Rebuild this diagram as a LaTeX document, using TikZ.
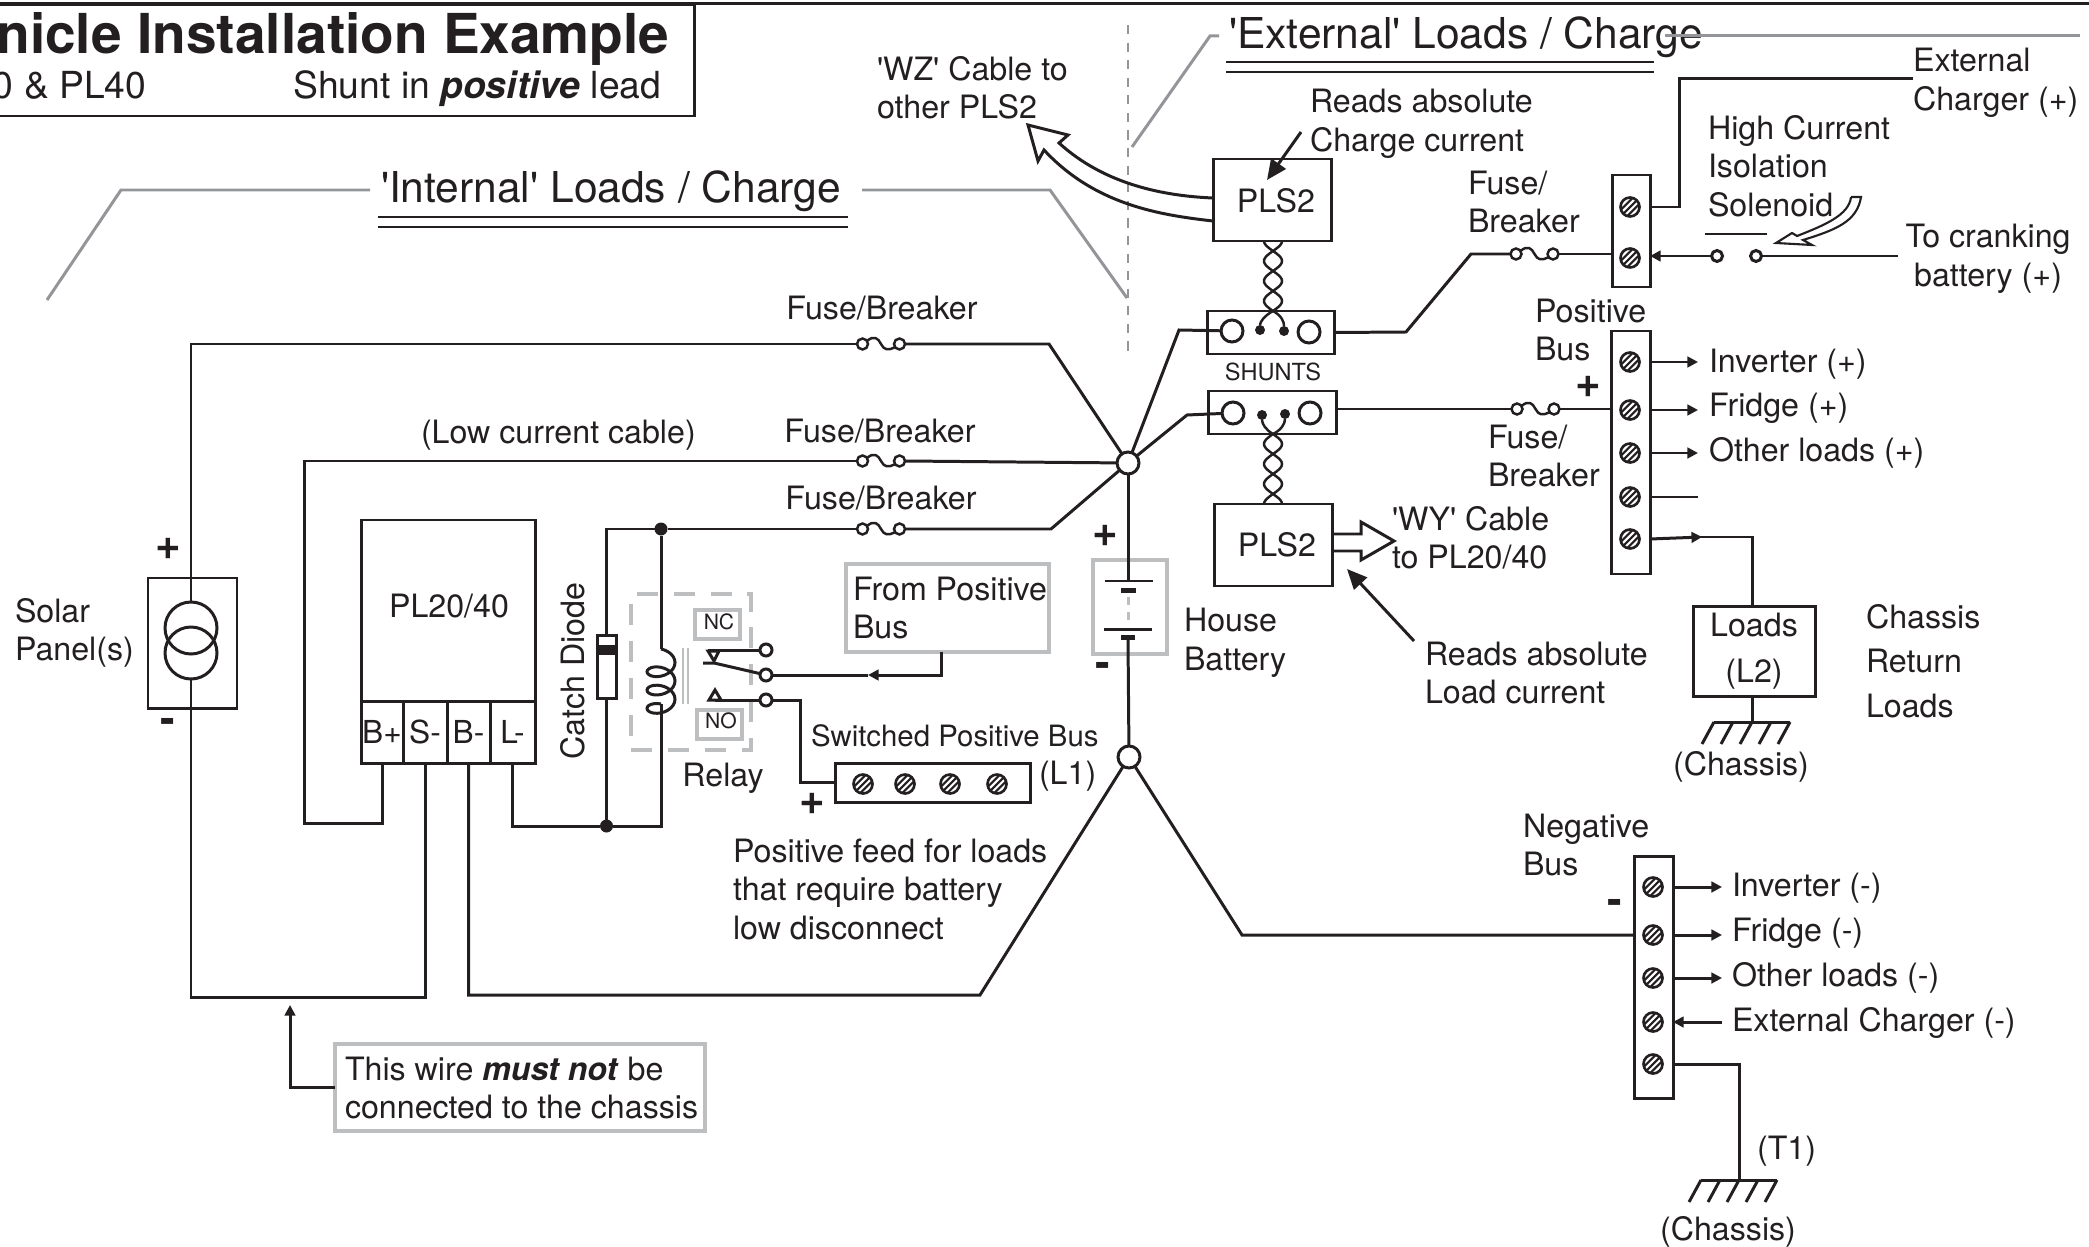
\documentclass[tikz,border=0pt]{standalone}
\usepackage{fontspec}
\setmainfont{TeX Gyre Heros}
\usetikzlibrary{arrows.meta}
\definecolor{ink}{HTML}{231F20}
\definecolor{paleline}{HTML}{BCBEC0}
\definecolor{leadline}{HTML}{939598}
\tikzset{
    wire/.style={line width=0.85pt,line join=miter},
    lead/.style={line width=0.85pt,draw=leadline},
    box/.style 2 args={draw,inner sep=0pt,outer sep=0pt,line width=0.85pt,minimum width=#1*0.01cm,minimum height=#2*0.01cm},
    palebox/.style 2 args={box={#1}{#2},draw=paleline,line width=1pt},
    hole/.style={draw,circle,fill=white,inner sep=0pt,outer sep=0pt,line width=0.85pt,minimum size=#1*0.01cm},
    dot/.style={fill,circle,inner sep=0pt,outer sep=0pt,minimum size=#1*0.01cm},
    lbl/.style={inner sep=0pt,outer sep=0pt,anchor=west,align=left,font=\fontsize{9.15}{10.95}\selectfont},
    mid/.style={inner sep=0pt,outer sep=0pt,align=center,font=\fontsize{9.15}{10.95}\selectfont},
    tiny/.style={inner sep=0pt,outer sep=0pt,font=\fontsize{6}{7}\selectfont},
    head/.style={inner sep=0pt,outer sep=0pt,anchor=base west,font=\fontsize{12.1}{14}\selectfont},
    sign/.style={inner sep=0pt,outer sep=0pt,font=\fontsize{12.5}{14}\selectfont\bfseries},
    bigtip/.style={-{Triangle[length=5.7pt,width=5pt]}},
    screw/.pic={
        \coordinate (-c) at (0,0);
        \draw[line width=0.75pt] (0,0) circle (9.5);
        \draw[line width=0.6pt] (-6.4,6.4)--(6.4,-6.4) (-2.3,8.7)--(8.7,-2.3) (-8.7,2.3)--(2.3,-8.7);
    },
    fuse/.pic={
        \coordinate (-l) at (-24,0);
        \coordinate (-r) at (24,0);
        \draw[line width=0.7pt] (-18.5,0) circle (5.5) (18.5,0) circle (5.5);
        \draw[line width=0.7pt] (-14,-3) .. controls (-7,-9) and (-3,-6) .. (0,0) .. controls (3,6) and (7,7) .. (14,3);
    },
    ground/.pic={
        \coordinate (-c) at (0,0);
        \draw[wire] (-38,0)--(38,0);
        \foreach \hx in {-38,-19,0,19,38} \draw[wire] (\hx,0)--(\hx-12,22);
    }
}
\begin{document}
\begin{tikzpicture}[x=0.01cm,y=-0.01cm,color=ink,>={Triangle[length=3pt,width=3pt]}]
        \useasboundingbox (0,0) rectangle (2089,1246);

        \draw[line width=1.3pt] (0,4)--(694,4);
        \draw[wire] (694,4)--(2089,4);
        \draw[wire] (0,116)--(694,116)--(694,4);
        \node[inner sep=0pt,anchor=base east,font=\fontsize{15.65}{18}\selectfont\bfseries] (titleText) at (670,54) {nicle Installation Example};
        \node[inner sep=0pt,anchor=base east,font=\fontsize{10.6}{12}\selectfont] (titleModel) at (147,99) {0 \& PL40};
        \node[inner sep=0pt,anchor=base east,font=\fontsize{10.6}{12}\selectfont] (titleShunt) at (662,99) {Shunt in \textbf{\textit{positive}} lead};

        \node[head] (headInt) at (381,203) {\textquotesingle Internal\textquotesingle{} Loads / Charge};
        \draw[line width=0.6pt] (378,217)--(848,217) (378,227)--(848,227);
        \draw[lead] (47,300)--(121,190)--(370,190);
        \draw[lead] (862,190)--(1050,190)--(1127,298);
        \node[head] (headExt) at (1229,49) {\textquotesingle External\textquotesingle{} Loads / Charge};
        \draw[line width=0.6pt] (1226,62)--(1654,62) (1226,72)--(1654,72);
        \draw[lead] (1132,147)--(1210,36)--(1219,36);
        \draw[lead] (1665,36)--(2080,36);
        \draw[lead,line width=0.6pt,dash pattern=on 2.6pt off 2.4pt] (1128,25)--(1128,353);

        % solar panel
        \node[box={89}{130}] (solar) at (192.5,643) {};
        \node[hole=52,fill=none] (pvA) at (191,628) {};
        \node[hole=52,fill=none] (pvB) at (191,653) {};
        \node[lbl] (solarText) at (15,633) {Solar\\Panel(s)};
        \node[sign] (solarPlus) at (168,549) {+};
        \node[sign] (solarMinus) at (168,726) {-};

        % controller
        \node[box={174}{181}] (plBody) at (448,610.5) {};
        \node[mid] (plText) at (449,606) {PL20/40};
        \node[box={42}{62},anchor=north west,font=\fontsize{9}{10}\selectfont] (tBp) at (361,701) {B+};
        \node[box={44}{62},anchor=north west,font=\fontsize{9}{10}\selectfont] (tSm) at (403,701) {S-};
        \node[box={43}{62},anchor=north west,font=\fontsize{9}{10}\selectfont] (tBm) at (447,701) {B-};
        \node[box={45}{62},anchor=north west,font=\fontsize{9}{10}\selectfont] (tLm) at (490,701) {L-};

        % fuses on the three long runs
        \pic (fuA) at (881,344) {fuse};
        \pic (fuB) at (881,461) {fuse};
        \pic (fuC) at (881,529) {fuse};
        \node[mid] (fuAText) at (882,308) {Fuse/Breaker};
        \node[mid] (fuBText) at (880,431) {Fuse/Breaker};
        \node[mid] (fuCText) at (881,498) {Fuse/Breaker};
        \node[lbl] (lowText) at (421,435) {(Low current cable)};

        \node[hole=22] (jTop) at (1128,463) {};
        \node[hole=22] (jBot) at (1129,757) {};
        \node[dot=13] (dTop) at (661,529) {};
        \node[dot=13] (dBot) at (606.5,826) {};

        \draw[wire] (pvA.north) |- (fuA-l);
        \draw[wire] (fuA-r)--(1049,344)--(jTop);
        \draw[wire] (fuB-l) -| (304,823) -| (tBp.south);
        \draw[wire] (fuB-r)--(jTop);
        \draw[wire] (fuC-r)--(1051,529)--(jTop);
        \draw[wire] (tSm.south)--(425,997) -| (pvB.south);
        \draw[wire] (tBm.south) |- (980,995)--(jBot);
        \draw[wire] (tLm.south) |- (dBot);

        % catch diode and relay
        \node[box={19}{63}] (diode) at (606.5,666.5) {};
        \fill (597,645) rectangle (616,655);
        \node[mid,rotate=90] (diodeText) at (573,671) {Catch Diode};
        \draw[wire] (diode.north) |- (dTop);
        \draw[wire] (dTop)--(fuC-l);
        \draw[wire] (diode.south)--(dBot);
        \coordinate (coilTop) at (661,649);
        \coordinate (coilBot) at (661,704);
        \draw[wire] (dTop)--(coilTop);
        \draw[wire] (coilBot) |- (dBot);
        \draw[wire] plot[smooth,samples=73,domain=-90:990] ({661+14*cos(\x)},{649+55/1080*(\x+90)+9*(sin(\x)+1)});
        \draw[paleline,line width=0.7pt] (683,648)--(683,704) (688,648)--(688,704);
        \node[box={120}{156},draw=paleline,line width=1pt,dash pattern=on 6pt off 4.5pt] (relay) at (691,672) {};
        \node[palebox={45}{29}] (relayNC) at (717.5,624.5) {};
        \node[palebox={45}{29}] (relayNO) at (719.5,724.5) {};
        \node[tiny] (relayNCText) at (719,622) {NC};
        \node[tiny] (relayNOText) at (721,721) {NO};
        \node[mid] (relayText) at (723,778) {Relay};
        \node[hole=12] (cNC) at (766,650) {};
        \node[hole=12] (cCom) at (766,675) {};
        \node[hole=12] (cNO) at (766,700) {};
        \draw[wire] (cNC)--(708,650);
        \draw[wire,fill=white] (708,651)--(719,651)--(714,661)--cycle;
        \draw[wire] (cCom)--(714,663)--(703,663);
        \draw[wire] (cNO)--(715,700);
        \draw[wire,fill=white] (709,700)--(721,700)--(715,690)--cycle;

        \node[palebox={203}{88}] (fromBus) at (947.5,608) {};
        \node[lbl] (fromBusText) at (853,608) {From Positive\\Bus};
        \coordinate (fromArrow) at (868,675);
        \draw[wire,->] (941,0 |- fromBus.south) |- (fromArrow);
        \draw[wire] (fromArrow)--(cCom);

        \node[box={195}{39}] (busL) at (932.5,782.5) {};
        \foreach \n/\sx in {1/863,2/905,3/950,4/997} \pic (sL\n) at (\sx,784) {screw};
        \draw[wire] (cNO) -| (800,782.5)--(busL.west);
        \node[lbl,font=\fontsize{8.35}{10}\selectfont] (busLText) at (811,736) {Switched Positive Bus};
        \node[lbl] (busLTag) at (1039,776) {(L1)};
        \node[sign] (busLPlus) at (812.5,804) {+};
        \node[lbl] (feedText) at (733,889) {Positive feed for loads\\that require battery\\low disconnect};

        % note under the controller
        \node[palebox={370}{87}] (note) at (520,1087.5) {};
        \node[lbl] (noteText) at (345,1088) {This wire \textbf{\textit{must not}} be\\connected to the chassis};
        \coordinate (noteTip) at (290,1005);
        \draw[wire,->] (note.west) -| (noteTip);

        % house battery
        \node[palebox={74}{94}] (batt) at (1130,607) {};
        \draw[wire] (jTop)--(1128,581);
        \draw[wire] (1105,581)--(1153,581) (1104,629)--(1152,629);
        \fill (1121,587.5) rectangle (1136,592.5);
        \fill (1121,634.5) rectangle (1135,639.5);
        \draw[paleline,line width=0.85pt,dash pattern=on 2.2pt off 2.2pt] (1128,597)--(1128,625);
        \draw[wire] (1128,640)--(jBot);
        \node[sign] (battPlus) at (1105,536) {+};
        \node[sign] (battMinus) at (1103,670) {-};
        \node[lbl] (battText) at (1184,643) {House\\Battery};

        % shunts and their sense units
        \node[box={118}{82}] (plsA) at (1272,200) {};
        \node[mid] (plsAText) at (1276,201) {PLS2};
        \node[box={127}{43}] (shA) at (1270.5,332.5) {};
        \node[hole=22] (shA1) at (1232,331) {};
        \node[hole=22] (shA2) at (1309,332) {};
        \node[dot=10] (shA3) at (1260,330) {};
        \node[dot=10] (shA4) at (1284,331) {};
        \node[inner sep=0pt,font=\fontsize{6.7}{8}\selectfont] (shuntText) at (1273,372) {SHUNTS};
        \node[box={128}{43}] (shB) at (1272,412.5) {};
        \node[hole=22] (shB1) at (1233,413) {};
        \node[hole=22] (shB2) at (1310,413) {};
        \node[dot=10] (shB3) at (1262,415) {};
        \node[dot=10] (shB4) at (1285,414) {};
        \node[box={118}{82}] (plsB) at (1273,545) {};
        \node[mid] (plsBText) at (1277,545) {PLS2};

        \draw[line width=0.7pt] plot[smooth,samples=57,domain=0:70] ({1273+9*sin(\x*9)},{311-\x});
        \draw[line width=0.7pt] plot[smooth,samples=57,domain=0:70] ({1273-9*sin(\x*9)},{311-\x});
        \draw[line width=0.7pt] plot[smooth,samples=57,domain=0:70] ({1273+9*sin(\x*9)},{434+\x});
        \draw[line width=0.7pt] plot[smooth,samples=57,domain=0:70] ({1273-9*sin(\x*9)},{434+\x});
        \draw[line width=0.7pt] (1273,311) .. controls (1264,316) and (1260,322) .. (shA3);
        \draw[line width=0.7pt] (1273,311) .. controls (1282,316) and (1284,322) .. (shA4);
        \draw[line width=0.7pt] (1273,434) .. controls (1266,430) and (1262,424) .. (shB3);
        \draw[line width=0.7pt] (1273,434) .. controls (1281,430) and (1285,424) .. (shB4);

        \draw[wire] (jTop)--(1179,330)--(shA1);
        \draw[wire] (jTop)--(1187,415)--(shB1);

        \draw[wire] (plsA.west |- 0,198) .. controls (1165,196) and (1105,185) .. (1059,143)--(1068,135)--(1028,125)--(1038,161)--(1044,150) .. controls (1095,205) and (1160,215) .. (plsA.west |- 0,221);
        \node[lbl] (wzText) at (877,88) {\textquotesingle WZ\textquotesingle{} Cable to\\other PLS2};
        \node[lbl] (chargeText) at (1310,124) {Reads absolute\\Charge current};
        \draw[wire,bigtip] (1301,132)--(1267,180);

        \draw[wire] (plsB.east |- 0,534)--(1361,534)--(1361,522)--(1394,541)--(1361,560)--(1361,551)--(plsB.east |- 0,551);
        \node[lbl] (wyText) at (1392,538) {\textquotesingle WY\textquotesingle{} Cable\\to PL20/40};
        \node[lbl] (loadText) at (1425,673) {Reads absolute\\Load current};
        \draw[wire,bigtip] (1414,641)--(1347,569);

        % solenoid bus
        \node[box={38}{112}] (busS) at (1631,231) {};
        \foreach \n/\sy in {1/207,2/258} \pic (sS\n) at (1630,\sy) {screw};
        \pic (fuD) at (1534.5,254) {fuse};
        \node[lbl] (fuDText) at (1468,202) {Fuse/\\Breaker};
        \draw[wire] (shA.east)--(1406,332)--(1471,254)--(fuD-l);
        \draw[wire] (fuD-r)--(busS.west |- fuD-r);
        \node[hole=11] (solA) at (1717,256) {};
        \node[hole=11] (solB) at (1756,256) {};
        \draw[wire,->] (solA)--(busS.east |- solA);
        \draw[wire] (solB)--(1898,256);
        \draw[wire] (1705,234)--(1767,234);
        \draw[wire] (busS.east |- sS1-c) -| (1679,79)--(1913,79);
        \node[lbl] (chargerText) at (1913,83) {External\\Charger (+)};
        \node[lbl] (solText) at (1708,166) {High Current\\Isolation\\Solenoid};
        \node[mid] (crankText) at (1988,259) {To cranking\\battery (+)};
        \draw[line width=0.6pt] (1851,197)--(1861,197) .. controls (1857,222) and (1835,230) .. (1803,240)--(1812,245)--(1776,243)--(1792,233)--(1797,236) .. controls (1825,225) and (1849,215) .. (1851,197);

        % positive bus
        \node[box={39}{243}] (busP) at (1630.5,452.5) {};
        \foreach \n/\sy in {1/362,2/410,3/453,4/497,5/539} \pic (sP\n) at (1630,\sy) {screw};
        \pic (fuE) at (1535.5,409) {fuse};
        \draw[wire] (shB.east |- fuE-l)--(fuE-l);
        \draw[wire] (fuE-r)--(busP.west |- fuE-r);
        \node[lbl] (busPText) at (1535,330) {Positive\\Bus};
        \node[sign] (busPPlus) at (1588,387) {+};
        \node[lbl] (fuEText) at (1488,456) {Fuse/\\Breaker};
        \foreach \n/\txt/\sy in {1/Inverter/364,2/Fridge/408,3/Other loads/453}{
            \draw[wire,->] (busP.east |- sP\n-c)--++(48,0);
            \node[lbl] (loadP\n) at (1709,\sy) {\txt{} (+)};
        }
        \draw[wire] (busP.east |- sP4-c)--++(48,0);
        \node[box={122}{90},align=center,font=\fontsize{9.15}{10.95}\selectfont] (loads) at (1754,651) {Loads\\[2pt](L2)};
        \draw[wire,->] (busP.east |- sP5-c)--(1702,537);
        \draw[wire] (1700,537) -| (1752,0 |- loads.north);
        \pic (gndL) at (1752,722) {ground};
        \draw[wire] (gndL-c |- loads.south)--(gndL-c);
        \node[mid] (gndLText) at (1741,767) {(Chassis)};
        \node[lbl] (returnText) at (1866,661) {Chassis\\[1.65pt]Return\\[1.65pt]Loads};

        % negative bus
        \node[box={39}{242}] (busN) at (1653.5,977) {};
        \foreach \n/\sy in {1/887,2/935,3/978,4/1022,5/1064} \pic (sN\n) at (1653,\sy) {screw};
        \draw[wire] (jBot)--(1242,935)--(busN.west |- sN2-c);
        \node[lbl] (busNText) at (1523,845) {Negative\\Bus};
        \node[sign] (busNMinus) at (1615,907) {-};
        \foreach \n/\txt/\sy in {1/Inverter/888,2/Fridge/933,3/Other loads/978}{
            \draw[wire,->] (busN.east |- sN\n-c)--++(49,0);
            \node[lbl] (loadN\n) at (1732,\sy) {\txt{} (-)};
        }
        \coordinate (chargerEnd) at (1722,1022);
        \draw[wire,->] (chargerEnd)--(busN.east |- sN4-c);
        \node[lbl] (loadN4) at (1732,1023) {External Charger (-)};
        \pic (gndN) at (1739,1180) {ground};
        \draw[wire] (busN.east |- sN5-c) -| (gndN-c);
        \node[lbl] (gndNTag) at (1757,1151) {(T1)};
        \node[mid] (gndNText) at (1728,1232) {(Chassis)};
    \end{tikzpicture}
\end{document}
